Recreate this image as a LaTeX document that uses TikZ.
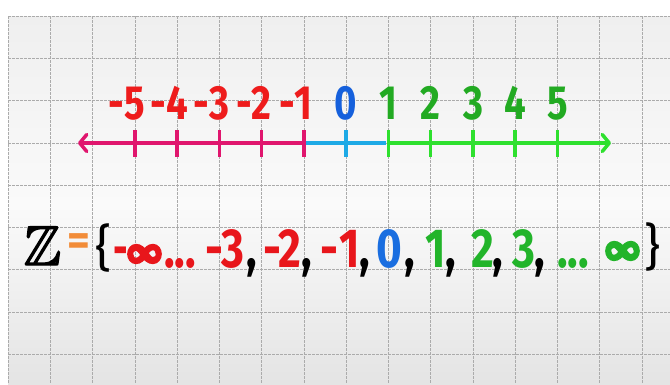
\documentclass[tikz,border=0pt]{standalone}
\usepackage{amssymb}
\usepackage{graphicx}
\usepackage{fontspec}
\setmainfont{Fira Sans}
\usetikzlibrary{arrows.meta}
\definecolor{pinkline}{HTML}{E0166E}
\definecolor{cyanline}{HTML}{1EAAE6}
\definecolor{greenline}{HTML}{2EE02E}
\definecolor{labred}{HTML}{EE1C1C}
\definecolor{labblue}{HTML}{1560DC}
\definecolor{labgreen}{HTML}{22AA22}
\definecolor{txtred}{HTML}{E8161B}
\definecolor{txtblue}{HTML}{1A6EE0}
\definecolor{txtgreen}{HTML}{22B42A}
\definecolor{eqorange}{HTML}{F28C38}
\definecolor{gridgray}{HTML}{ABABAB}
\definecolor{bgtop}{HTML}{EFEFEF}
\definecolor{bgmid}{HTML}{FAFAFA}
\definecolor{bgbot}{HTML}{E4E4E4}
\newcommand{\sq}[1]{\scalebox{0.8}[1]{#1}}
\newcommand{\sqq}[1]{\scalebox{0.65}[1]{#1}}
\newcommand{\fakebold}[2]{\special{pdf:literal direct 2 Tr #1 w}#2\special{pdf:literal direct 0 Tr}}
\newcommand{\bigInf}{\resizebox{33pt}{!}{\fakebold{1.6}{$\infty$}}}
\begin{document}
\begin{tikzpicture}[x=1pt,y=-1pt,
  >={Straight Barb[length=7pt,width=17pt,round]},
  gridline/.style={draw=gridgray, line width=0.6pt, dash pattern=on 2.5pt off 1.5pt},
  tickmark/.style={minimum width=3.5pt, minimum height=27pt, inner sep=0pt, fill=#1, draw=none},
  toplabel/.style={anchor=base, inner sep=0pt, font=\fontsize{48}{48}\selectfont\bfseries, text=#1},
  tok/.style={anchor=base, inner sep=0pt, font=\fontsize{55}{55}\selectfont\bfseries, text=#1},
  brace/.style={anchor=center, inner sep=0pt, font=\fontsize{50}{50}\selectfont, text=black},
  infty/.style={anchor=center, inner sep=0pt, text=#1},
  numline/.style={line width=3.5pt}]
\useasboundingbox (0,0) rectangle (670,384);
\fill[white] (0,0) rectangle (670,384);
\shade[top color=bgtop, bottom color=bgmid] (8,16) rectangle (670,205);
\shade[top color=bgmid, bottom color=bgbot] (8,205) rectangle (670,384);
% grid
\foreach \k in {0,...,15} \draw[gridline] (8+42.27*\k,16) -- (8+42.27*\k,384);
\foreach \k in {0,...,8} \draw[gridline] (8,16+42.27*\k) -- (670,16+42.27*\k);
% ticks
\foreach \n/\x/\c in {m5/134.8/pinkline, m4/177.1/pinkline, m3/219.4/pinkline, m2/261.6/pinkline, m1/303.9/pinkline, z0/346.2/cyanline, p1/388.4/greenline, p2/430.7/greenline, p3/473/greenline, p4/515.2/greenline, p5/557.5/greenline}
  \node[tickmark=\c] (t\n) at (\x,143) {};
\coordinate (L) at (78,143);
\coordinate (R) at (611,143);
\draw[numline, pinkline, <-] (L) -- (tm1.center);
\draw[numline, cyanline] (tm1.east) -- (tp1.west);
\draw[numline, greenline, ->] (tp1.center) -- (R);
% labels
\node[toplabel=labred] (lm5) at (134.8,119) {\sq{\llap{-}5}};
\node[toplabel=labred] (lm4) at (177.1,119) {\sq{\llap{-}4}};
\node[toplabel=labred] (lm3) at (219.4,119) {\sq{\llap{-}3}};
\node[toplabel=labred] (lm2) at (261.6,119) {\sq{\llap{-}2}};
\node[toplabel=labred] (lm1) at (303.9,119) {\sq{\llap{-}1}};
\node[toplabel=labblue] (lz0) at (346.2,119) {\sq{0}};
\node[toplabel=labgreen] (lp1) at (388.4,119) {\sq{1}};
\node[toplabel=labgreen] (lp2) at (430.7,119) {\sq{2}};
\node[toplabel=labgreen] (lp3) at (473,119) {\sq{3}};
\node[toplabel=labgreen] (lp4) at (515.2,119) {\sq{4}};
\node[toplabel=labgreen] (lp5) at (557.5,119) {\sq{5}};
% set notation
\node[anchor=base, inner sep=0pt, font=\fontsize{56}{56}\selectfont] (zz) at (42.5,265) {\fakebold{1.4}{$\mathbb{Z}$}};
\node[anchor=center, inner sep=0pt, font=\fontsize{44}{44}\selectfont\bfseries, text=eqorange] (eq) at (79,245) {=};
\node[brace] (lb) at (104,248) {\{};
\node[tok=txtred] (s1) at (120.5,267) {\sqq{-}};
\node[infty=txtred] (s2) at (144.5,254) {\bigInf};
\node[tok=txtred] (s3) at (180,267) {\sq{...}};
\node[tok=txtred] (s4) at (214,267) {\sq{-}};
\node[tok=txtred] (s5) at (232.5,267) {\sq{3}};
\node[tok=black] (c1) at (251.5,267) {\sq{,}};
\node[tok=txtred] (s6) at (272,267) {\sq{-}};
\node[tok=txtred] (s7) at (290,267) {\sq{2}};
\node[tok=black] (c2) at (306.5,267) {\sq{,}};
\node[tok=txtred] (s8) at (329,267) {\sq{-}};
\node[tok=txtred] (s9) at (349.5,267) {\sq{1}};
\node[tok=black] (c3) at (365,267) {\sq{,}};
\node[tok=txtblue] (s10) at (389.5,267) {\sq{0}};
\node[tok=black] (c4) at (409.5,267) {\sq{,}};
\node[tok=txtgreen] (s11) at (435.5,267) {\sq{1}};
\node[tok=black] (c5) at (450.5,267) {\sq{,}};
\node[tok=txtgreen] (s12) at (483,267) {\sq{2}};
\node[tok=black] (c6) at (497.5,267) {\sq{,}};
\node[tok=txtgreen] (s13) at (524,267) {\sq{3}};
\node[tok=black] (c7) at (540,267) {\sq{,}};
\node[tok=txtgreen] (s14) at (573,267) {\sq{...}};
\node[infty=txtgreen] (s15) at (622.5,251) {\bigInf};
\node[brace] (rb) at (652.5,247) {\}};
\end{tikzpicture}
\end{document}
